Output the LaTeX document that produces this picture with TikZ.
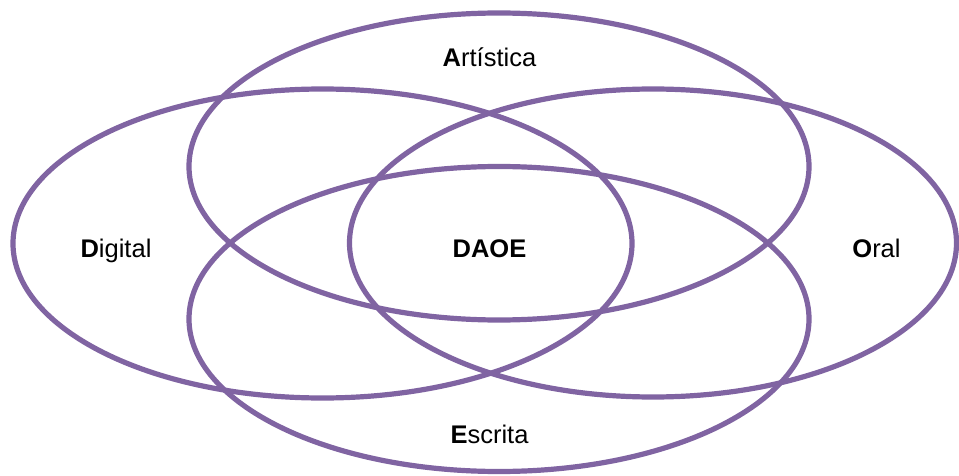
\documentclass[tikz,border=0pt]{standalone}
\usepackage{fontspec}
\setmainfont{Liberation Sans}
\definecolor{vpurple}{HTML}{8064A2}
\begin{document}
\begin{tikzpicture}[x=1pt,y=-1pt,
  ring/.style={draw=vpurple,line width=5.2pt},
  lbl/.style={anchor=base,inner sep=0pt,font=\fontsize{25.5}{30}\selectfont}]
\useasboundingbox (0,0) rectangle (959,476);
\draw[ring] (499,166.5) ellipse [x radius=310,y radius=153.5];
\draw[ring] (322.5,243.5) ellipse [x radius=309.5,y radius=154.5];
\draw[ring] (653,243) ellipse [x radius=303.5,y radius=154];
\draw[ring] (499,319) ellipse [x radius=310,y radius=152.5];
\node[lbl] (art) at (489.5,67) {\textbf{A}rtística};
\node[lbl] (dig) at (116,257) {\textbf{D}igital};
\node[lbl] (daoe) at (489.5,257) {\textbf{DAOE}};
\node[lbl] (ora) at (876.5,257) {\textbf{O}ral};
\node[lbl] (esc) at (489.5,443) {\textbf{E}scrita};
\end{tikzpicture}
\end{document}
